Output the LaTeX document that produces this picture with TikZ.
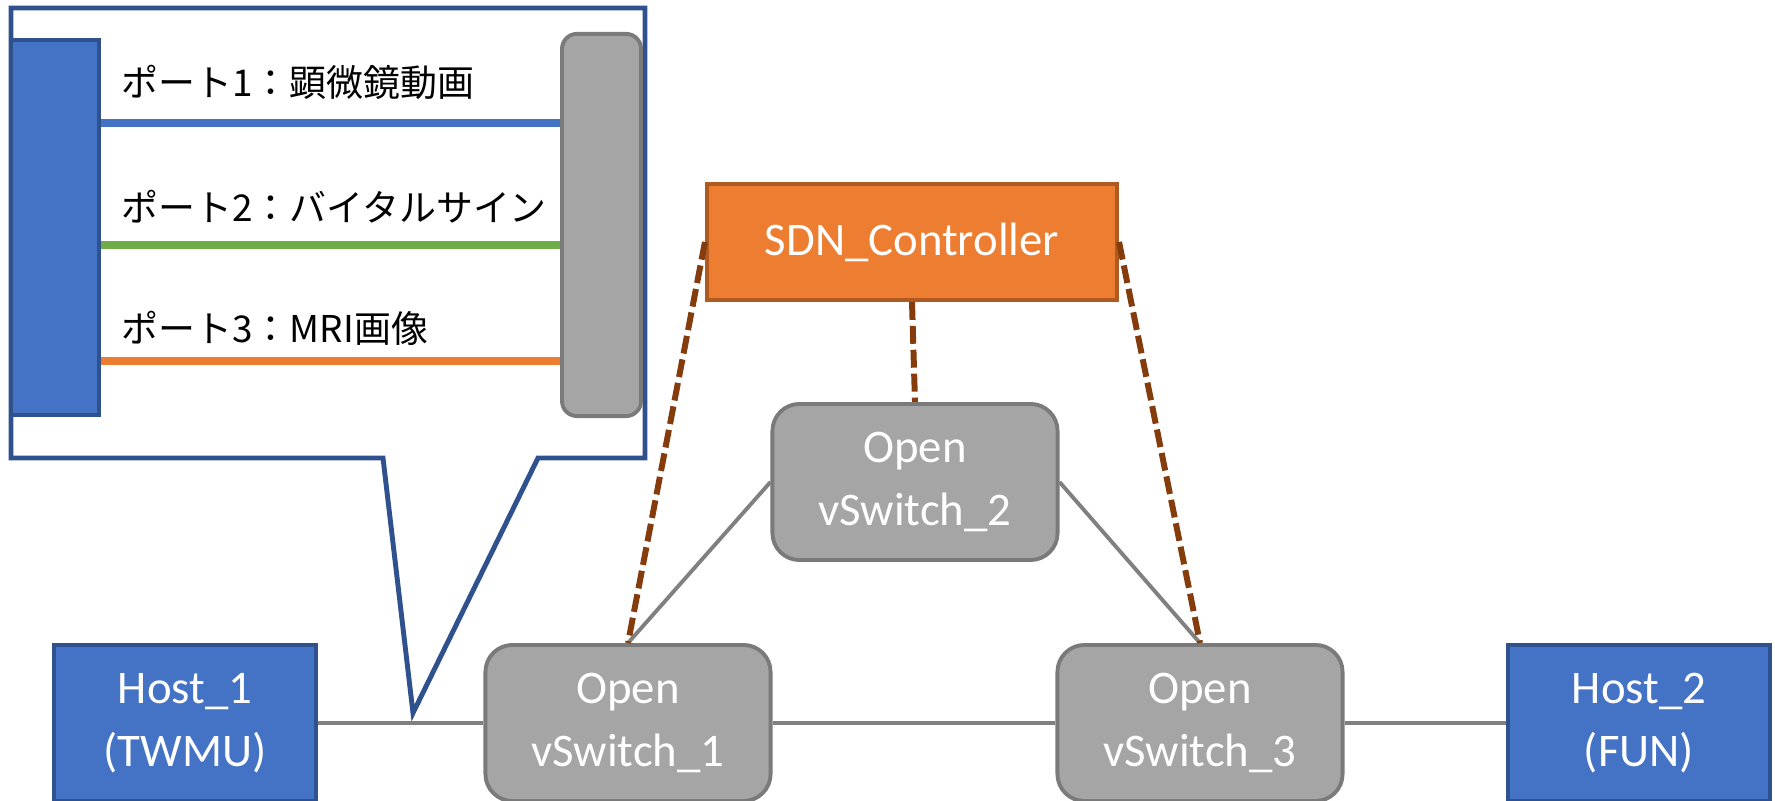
\documentclass[tikz,border=0pt]{standalone}
\usepackage{fontspec}
\setmainfont{Carlito}
\newfontfamily\jpfont{Noto Sans CJK JP}

\definecolor{hostblue}{HTML}{4472C4}
\definecolor{hostedge}{HTML}{2F528F}
\definecolor{ovsgray}{HTML}{A5A5A5}
\definecolor{ovsedge}{HTML}{7A7A7A}
\definecolor{ctrlorange}{HTML}{ED7D31}
\definecolor{ctrledge}{HTML}{AE5A21}
\definecolor{ctrlbrown}{HTML}{843C0C}
\definecolor{linkgray}{HTML}{808080}
\definecolor{portgreen}{HTML}{70AD47}

\begin{document}
\begin{tikzpicture}[
        x=0.01cm, y=-0.01cm,
        host/.style={
            rectangle,
            draw=hostedge,
            fill=hostblue,
            line width=1.1pt,
            minimum width=2.62cm,
            minimum height=1.56cm,
            align=center,
            text=white,
            font=\fontsize{13.3}{17.9}\selectfont,
            inner sep=0pt
        },
        ovs/.style={
            host,
            draw=ovsedge,
            fill=ovsgray,
            rounded corners=0.27cm,
            minimum width=2.85cm
        },
        ctrl/.style={
            host,
            draw=ctrledge,
            fill=ctrlorange,
            minimum width=4.1cm,
            minimum height=1.16cm
        },
        bar/.style={rectangle, line width=1.1pt, inner sep=0pt},
        link/.style={draw=linkgray, line width=1.1pt},
        ctrlline/.style={draw=ctrlbrown, line width=1.7pt, dash pattern=on 5.1pt off 1.7pt},
        portline/.style={line width=2pt},
        portlabel/.style={anchor=west, inner sep=0pt, font=\jpfont\fontsize{10.5}{12}\selectfont},
        callout/.style={draw=hostedge, fill=white, line width=1.4pt, line join=miter}
    ]
    \useasboundingbox (0,0) rectangle (1775,801);

    % callout with the flow table
    \draw[callout] (11,8) -- (645,8) -- (645,458) -- (538,458) -- (413,713)
        -- (383,458) -- (11,458) -- cycle;

    \node[bar, draw=hostedge, fill=hostblue, minimum width=0.88cm, minimum height=3.75cm] (hostbar) at (55,227.5) {};
    \node[bar, draw=ovsedge, fill=ovsgray, rounded corners=0.15cm, minimum width=0.79cm, minimum height=3.82cm] (swbar) at (601.5,225) {};

    \coordinate (p1) at (0,123);
    \coordinate (p2) at (0,245);
    \coordinate (p3) at (0,361);
    \draw[portline, draw=hostblue]   (hostbar.east |- p1) -- (swbar.west |- p1);
    \draw[portline, draw=portgreen]  (hostbar.east |- p2) -- (swbar.west |- p2);
    \draw[portline, draw=ctrlorange] (hostbar.east |- p3) -- (swbar.west |- p3);

    \node[portlabel] (lab1) at (121,82)  {ポート1：顕微鏡動画};
    \node[portlabel] (lab2) at (121,207) {ポート2：バイタルサイン};
    \node[portlabel] (lab3) at (121,328) {ポート3：MRI画像};

    % network
    \node[ctrl] (sdn)   at (912,242)  {SDN\_Controller};
    \node[ovs]  (ovs2)  at (915,482)  {Open\\vSwitch\_2};
    \node[ovs]  (ovs1)  at (628,723)  {Open\\vSwitch\_1};
    \node[ovs]  (ovs3)  at (1200,723) {Open\\vSwitch\_3};
    \node[host] (host1) at (185,723)  {Host\_1\\(TWMU)};
    \node[host] (host2) at (1639,723) {Host\_2\\(FUN)};

    \draw[link] (host1) -- (ovs1);
    \draw[link] (ovs1) -- (ovs3);
    \draw[link] (ovs3) -- (host2);
    \draw[link] (ovs1.north) -- (ovs2.west);
    \draw[link] (ovs2.east) -- (ovs3.north);

    \draw[ctrlline] (sdn.west) -- (ovs1.north);
    \draw[ctrlline] (sdn.south) -- (ovs2.north);
    \draw[ctrlline] (sdn.east) -- (ovs3.north);

\end{tikzpicture}
\end{document}
